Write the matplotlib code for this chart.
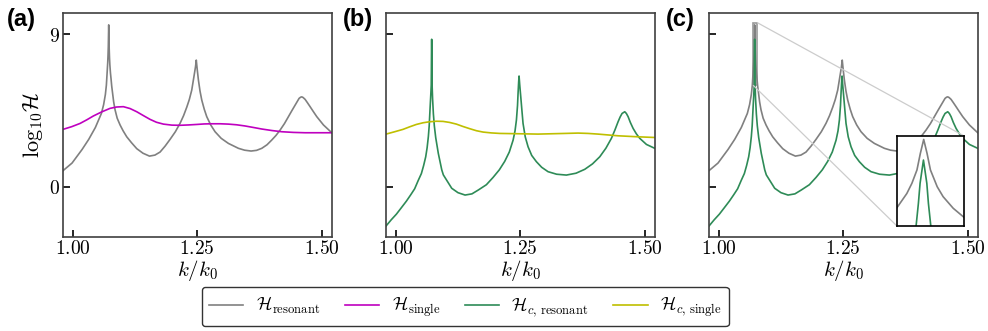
import matplotlib
matplotlib.use("Agg")
import matplotlib.pyplot as plt
from matplotlib.ticker import FixedLocator, FormatStrFormatter
from mpl_toolkits.axes_grid1.inset_locator import mark_inset

plt.rcParams['mathtext.fontset'] = 'cm'

# H_resonant (grey)
k_res = [0.9805, 0.9986, 1.0187, 1.0321, 1.0454, 1.0575, 1.0620, 1.0655, 1.0675,
         1.0691, 1.0696, 1.0702, 1.0708, 1.0714, 1.0718, 1.0722, 1.0726, 1.0730,
         1.0738, 1.0745, 1.0757, 1.0769, 1.0782, 1.0800, 1.0822, 1.0849, 1.0892,
         1.095, 1.1012, 1.1084, 1.118, 1.1285, 1.141, 1.154, 1.165, 1.1753,
         1.1854, 1.1954, 1.206, 1.2155, 1.2225, 1.2289, 1.234, 1.2389, 1.2443,
         1.2465, 1.2480, 1.2498, 1.2523, 1.2555, 1.259, 1.264, 1.269, 1.277,
         1.2857, 1.298, 1.3125, 1.3326, 1.345, 1.358, 1.369, 1.3795, 1.39,
         1.3995, 1.408, 1.4163, 1.425, 1.433, 1.44, 1.4464, 1.4544, 1.4575,
         1.4598, 1.4625, 1.4665, 1.471, 1.4765, 1.483, 1.4899, 1.5033, 1.52]
h_res = [0.95, 1.40, 2.20, 2.80, 3.50, 4.33, 4.85, 5.45, 6.00,
         6.78, 7.03, 7.33, 7.75, 8.30, 8.98, 9.56, 8.98, 8.30,
         7.61, 7.20, 6.72, 6.37, 5.95, 5.52, 5.00, 4.55, 4.05,
         3.65, 3.30, 2.95, 2.60, 2.25, 1.98, 1.81, 1.87, 2.05,
         2.40, 2.80, 3.25, 3.75, 4.20, 4.70, 5.15, 5.71, 6.69,
         7.10, 7.48, 6.95, 6.30, 5.65, 5.12, 4.58, 4.14, 3.65,
         3.25, 2.86, 2.56, 2.27, 2.16, 2.11, 2.15, 2.27, 2.48,
         2.76, 3.03, 3.35, 3.73, 4.14, 4.50, 4.82, 5.22, 5.29,
         5.31, 5.27, 5.16, 4.97, 4.73, 4.44, 4.14, 3.65, 3.19]

# H_single (magenta)
k_single = [0.9805, 0.998, 1.0147, 1.028, 1.0414, 1.058, 1.0749, 1.088, 1.1016,
            1.115, 1.1285, 1.142, 1.1552, 1.168, 1.182, 1.199, 1.2155, 1.232,
            1.249, 1.264, 1.279, 1.296, 1.3125, 1.329, 1.346, 1.363, 1.3795,
            1.40, 1.4196, 1.443, 1.4665, 1.52]
h_single = [3.39, 3.55, 3.74, 3.95, 4.18, 4.42, 4.63, 4.71, 4.73,
            4.62, 4.43, 4.20, 3.98, 3.81, 3.70, 3.64, 3.63, 3.65,
            3.68, 3.71, 3.72, 3.72, 3.70, 3.66, 3.59, 3.50, 3.41,
            3.32, 3.25, 3.21, 3.19, 3.19]

# H_c,resonant (green)
k_cres = [0.9805, 0.991, 1.0013, 1.011, 1.0214, 1.030, 1.038, 1.045, 1.0515,
          1.056, 1.0602, 1.063, 1.0655, 1.0672, 1.0689, 1.0705,
          1.07130, 1.07157, 1.07177, 1.07217, 1.07257, 1.07276, 1.07304, 1.0740,
          1.0756, 1.0775, 1.0803, 1.0855, 1.0924, 1.0956, 1.1124, 1.125, 1.1392,
          1.153, 1.1659, 1.182, 1.1954, 1.208, 1.2188, 1.228,
          1.2356, 1.2395, 1.2423, 1.2445, 1.2456, 1.2468, 1.2476, 1.2490, 1.251,
          1.2535, 1.2556, 1.260, 1.2657, 1.273, 1.2824, 1.293, 1.3058, 1.323,
          1.3426, 1.362, 1.3795, 1.395, 1.4096, 1.422, 1.433, 1.440, 1.4464,
          1.4505, 1.4544, 1.4598, 1.463, 1.4665, 1.471, 1.4765, 1.483, 1.4899,
          1.5033, 1.52]
h_cres = [-2.32, -1.95, -1.62, -1.25, -0.85, -0.48, -0.12, 0.36, 0.78,
          1.25, 1.77, 2.30, 2.96, 3.60, 4.60, 5.50,
          6.00, 6.92, 7.75, 8.71, 7.75, 6.92, 6.00, 5.20,
          4.30, 3.60, 2.90, 1.97, 1.00, 0.70, -0.09, -0.35, -0.49,
          -0.42, -0.19, 0.12, 0.55, 1.00, 1.50, 2.05,
          2.75, 3.30, 3.94, 4.80, 5.52, 6.20, 6.54, 6.00, 5.32,
          4.45, 3.74, 2.95, 2.36, 1.85, 1.48, 1.15, 0.89, 0.74,
          0.69, 0.80, 1.03, 1.35, 1.77, 2.28, 2.86, 3.35, 3.84,
          4.12, 4.33, 4.43, 4.33, 4.14, 3.80, 3.45, 3.13, 2.86,
          2.50, 2.27]

# H_c,single (yellow)
k_csingle = [0.9805, 0.998, 1.0147, 1.028, 1.0414, 1.055, 1.0682, 1.082, 1.095,
             1.108, 1.1218, 1.135, 1.1485, 1.162, 1.1753, 1.192, 1.2088, 1.229,
             1.249, 1.2857, 1.3125, 1.34, 1.366, 1.386, 1.4062, 1.4464, 1.4866, 1.52]
h_csingle = [3.11, 3.25, 3.39, 3.54, 3.68, 3.78, 3.84, 3.87, 3.86,
             3.80, 3.70, 3.56, 3.43, 3.31, 3.23, 3.18, 3.15, 3.14,
             3.13, 3.11, 3.13, 3.15, 3.17, 3.15, 3.11, 3.01, 2.95, 2.91]

xticks = [1.00, 1.25, 1.50]
yticks = [0, 9]
panel_labels = ['(a)', '(b)', '(c)']

c_res = 'gray'
c_single = 'm'
c_cres = 'seagreen'
c_csingle = 'y'
lw = 1.2


def style_axes(ax, show_ylabels):
    ax.set_xlim(0.9805, 1.520)
    ax.set_ylim(-2.95, 10.28)
    ax.xaxis.set_major_locator(FixedLocator(xticks))
    ax.yaxis.set_major_locator(FixedLocator(yticks))
    ax.xaxis.set_major_formatter(FormatStrFormatter('$%.2f$'))
    ax.yaxis.set_major_formatter(FormatStrFormatter('$%d$'))
    ax.tick_params(direction='in', length=5, width=1.2, labelsize=14, pad=2,
                   top=False, right=False)
    if not show_ylabels:
        ax.set_yticklabels([])
    for s in ax.spines.values():
        s.set_linewidth(1.2)
        s.set_color('0.25')
    ax.set_xlabel('$k/k_0$', fontsize=15, labelpad=0)


fig = plt.figure(figsize=(9.88, 3.31), dpi=100)
lefts = [0.0638, 0.3907, 0.7176]
axes = [fig.add_axes([l, 0.2849, 0.272, 0.6767]) for l in lefts]
ax_a, ax_b, ax_c = axes

ax_a.plot(k_res, h_res, color=c_res, lw=lw)
ax_a.plot(k_single, h_single, color=c_single, lw=lw)

ax_b.plot(k_cres, h_cres, color=c_cres, lw=lw)
ax_b.plot(k_csingle, h_csingle, color=c_csingle, lw=lw)

ax_c.plot(k_res, h_res, color=c_res, lw=lw)
ax_c.plot(k_cres, h_cres, color=c_cres, lw=lw)

for i, ax in enumerate(axes):
    style_axes(ax, i == 0)
ax_a.set_ylabel(r'$\log_{10}\!\mathcal{H}$', fontsize=16, labelpad=3)

# inset of the first peak
axins = fig.add_axes([0.9076, 0.318, 0.0683, 0.271])
axins.plot(k_res, h_res, color=c_res, lw=lw)
axins.plot(k_cres, h_cres, color=c_cres, lw=lw)
axins.set_xlim(1.0690, 1.0770)
axins.set_ylim(6.0, 9.7)
axins.set_xticks([])
axins.set_yticks([])
for s in axins.spines.values():
    s.set_linewidth(1.2)
pp, p1, p2 = mark_inset(ax_c, axins, loc1=1, loc2=3, fc='none', ec='0.8', lw=0.9)
pp.set_edgecolor('0.6')
pp.set_linewidth(1.2)

label_x = [0.007, 0.347, 0.674]
for x, t in zip(label_x, panel_labels):
    fig.text(x, 0.94, t, ha='left', va='center', fontsize=17,
             fontweight='bold', family='Liberation Sans')

handles = [
    plt.Line2D([], [], color=c_res, lw=lw),
    plt.Line2D([], [], color=c_single, lw=lw),
    plt.Line2D([], [], color=c_cres, lw=lw),
    plt.Line2D([], [], color=c_csingle, lw=lw),
]
labels = [r'$\mathcal{H}_{\mathrm{resonant}}$', r'$\mathcal{H}_{\mathrm{single}}$',
          r'$\mathcal{H}_{c,\,\mathrm{resonant}}$', r'$\mathcal{H}_{c,\,\mathrm{single}}$']
leg = fig.legend(handles, labels, loc='center', bbox_to_anchor=(0.471, 0.074),
                 ncol=4, fontsize=13, handlelength=1.9, handletextpad=0.7,
                 columnspacing=1.35, frameon=True, fancybox=True, framealpha=1)
leg.get_frame().set_edgecolor('0.2')
leg.get_frame().set_linewidth(1.0)

fig.savefig('out.png', dpi=100)
